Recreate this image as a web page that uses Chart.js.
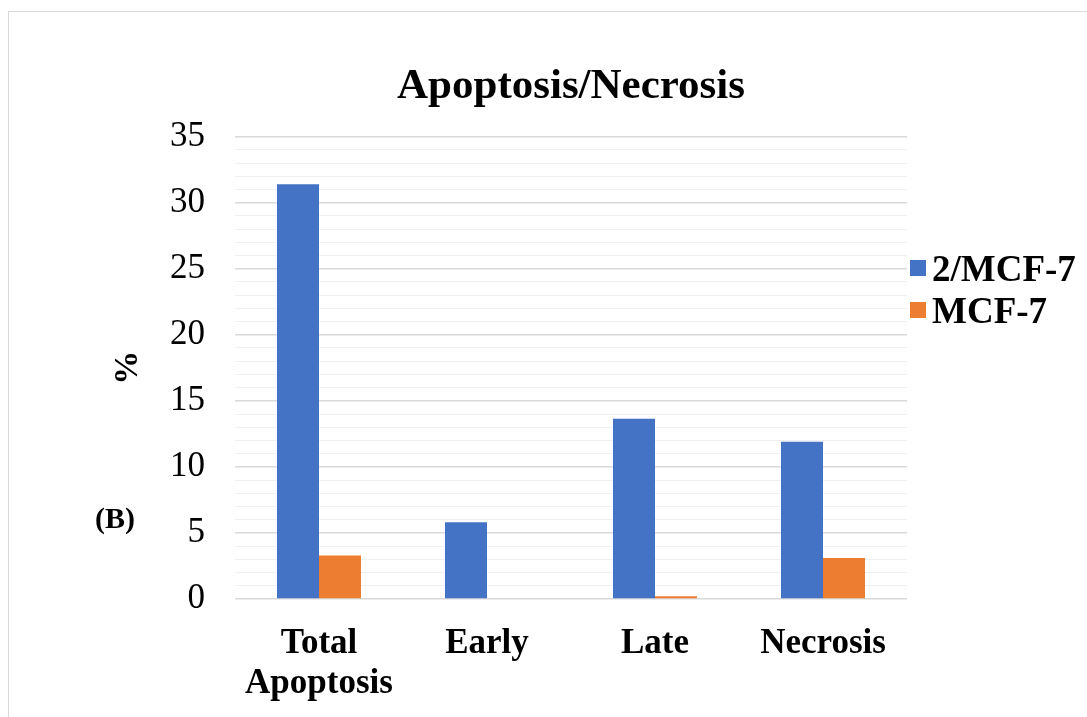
<!DOCTYPE html>
<html><head><meta charset="utf-8">
<script src="https://cdn.jsdelivr.net/npm/chart.js@4.4.0/dist/chart.umd.min.js"></script>
<style>
html,body{margin:0;padding:0;background:#fff;width:1087px;height:717px;overflow:hidden;}
#frame{position:absolute;left:8px;top:11px;width:1200px;height:800px;border-left:1px solid #d9d9d9;border-top:1px solid #d9d9d9;}
#wrap{position:absolute;left:0;top:0;width:1087px;height:717px;}
#legend{position:absolute;left:910px;top:247px;font-family:'Liberation Serif';font-weight:bold;font-size:37px;white-space:nowrap;color:#000;}
.item{display:flex;align-items:center;height:42px;}
.sw{width:16px;height:16px;margin-right:6px;flex:none;}
#tag{position:absolute;left:95px;top:501px;font:bold 30px 'Liberation Serif';color:#000;}
</style></head><body>
<div id="frame"></div>
<div id="wrap"><canvas id="c"></canvas></div>
<div id="legend"></div>
<div id="tag">(B)</div>
<script>
const categories = [['Total','Apoptosis'], 'Early', 'Late', 'Necrosis'];
const seriesNames = ['2/MCF-7', 'MCF-7'];
const treatedValues = [31.4, 5.8, 13.65, 11.9];
const controlValues = [3.3, 0, 0.2, 3.1];
const seriesColors = ['#4472C4', '#ED7D31'];
const yTickLabels = [0, 5, 10, 15, 20, 25, 30, 35];
const chartTitle = 'Apoptosis/Necrosis';
const yTitle = '%';

const serif = "'Liberation Serif', 'Times New Roman', serif";

const chart = new Chart(document.getElementById('c'), {
  type: 'bar',
  data: {
    labels: categories,
    datasets: [
      { label: seriesNames[0], data: treatedValues, backgroundColor: seriesColors[0] },
      { label: seriesNames[1], data: controlValues, backgroundColor: seriesColors[1] }
    ]
  },
  options: {
    responsive: true,
    maintainAspectRatio: false,
    animation: false,
    layout: { padding: { left: 104, right: 180, top: 0, bottom: 0 } },
    datasets: { bar: { categoryPercentage: 0.5, barPercentage: 1.0 } },
    plugins: {
      legend: { display: false },
      tooltip: { enabled: false },
      title: {
        display: true,
        text: chartTitle,
        fullSize: false,
        color: '#000',
        font: { family: serif, size: 43, weight: 'bold', lineHeight: 1.2 },
        padding: { top: 61, bottom: 24 },
        align: 'center'
      }
    },
    scales: {
      x: {
        grid: { display: false },
        border: { display: false },
        ticks: {
          color: '#000',
          font: { family: serif, size: 35, weight: 'bold', lineHeight: 1.15 },
          padding: 17,
          maxRotation: 0,
          autoSkip: false
        },
        afterFit: (s) => { s.height = 118; }
      },
      y: {
        min: 0,
        max: 35,
        border: { display: false },
        grid: {
          drawTicks: false,
          color: (ctx) => (yTickLabels.includes(ctx.tick.value) ? '#d9d9d9' : '#f0f0f0'),
          lineWidth: (ctx) => (yTickLabels.includes(ctx.tick.value) ? 1.5 : 1)
        },
        ticks: {
          stepSize: 1,
          autoSkip: false,
          color: '#000',
          padding: 30,
          font: { family: serif, size: 35 },
          callback: (v) => (yTickLabels.includes(v) ? String(v) : '')
        },
        title: {
          display: true,
          text: yTitle,
          color: '#000',
          font: { family: serif, size: 34, weight: 'bold' },
          padding: { top: 4, bottom: 0 }
        },
        afterFit: (s) => { s.width = 131; }
      }
    }
  }
});

const leg = document.getElementById('legend');
chart.data.datasets.forEach((ds) => {
  const it = document.createElement('div');
  it.className = 'item';
  const sw = document.createElement('span');
  sw.className = 'sw';
  sw.style.background = ds.backgroundColor;
  const tx = document.createElement('span');
  tx.textContent = ds.label;
  it.appendChild(sw);
  it.appendChild(tx);
  leg.appendChild(it);
});
</script>
</body></html>
